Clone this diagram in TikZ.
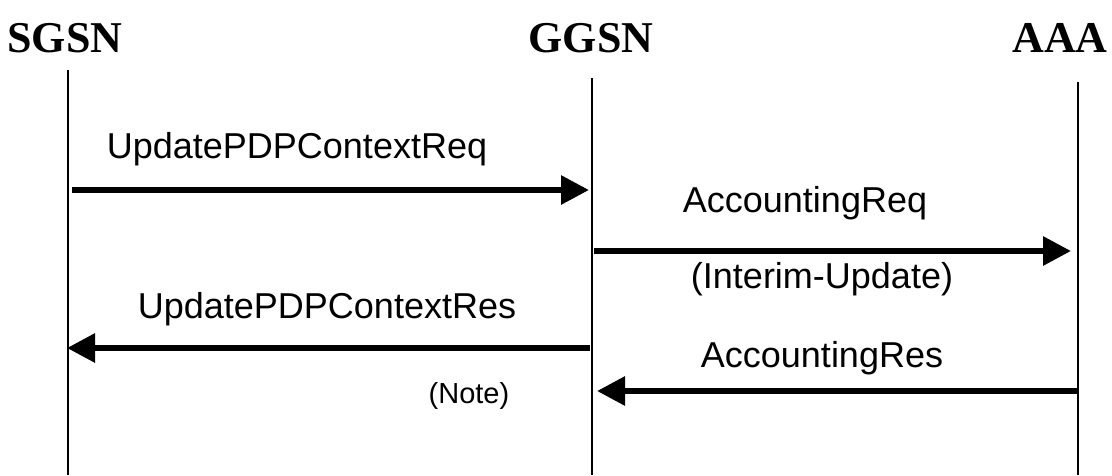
\documentclass[tikz,border=0pt]{standalone}
\usepackage{fontspec}
\setmainfont{Liberation Serif}
\newfontfamily\arialf{Liberation Sans}
\usetikzlibrary{arrows.meta}
\begin{document}
\begin{tikzpicture}[x=1pt,y=-1pt,
  title/.style={font=\fontsize{44}{50}\selectfont\bfseries, anchor=base, inner sep=0pt},
  lbl/.style={font=\arialf\fontsize{36}{42}\selectfont, anchor=base, inner sep=0pt},
  notelbl/.style={font=\arialf\fontsize{29}{34}\selectfont, anchor=base, inner sep=0pt},
  life/.style={line width=2pt},
  msg/.style={line width=6pt, -{Triangle[length=28pt,width=28pt]}}]
\useasboundingbox (0,0) rectangle (1112,475);
% titles
\node[title] (sgsn) at (65,52) {SGSN};
\node[title] (ggsn) at (591,52) {GGSN};
\node[title] (aaa) at (1060,52) {AAA};
% lifelines
\coordinate (s0) at (68,70);  \coordinate (s1) at (68,475);
\coordinate (g0) at (592,78); \coordinate (g1) at (592,475);
\coordinate (a0) at (1078,82); \coordinate (a1) at (1078,475);
\draw[life] (s0) -- (s1);
\draw[life] (g0) -- (g1);
\draw[life] (a0) -- (a1);
% message end points
\coordinate (m1s) at (72,190);   \coordinate (m1e) at (589,190);
\coordinate (m2s) at (594,251);  \coordinate (m2e) at (1071,251);
\coordinate (m3s) at (590,348);  \coordinate (m3e) at (67,348);
\coordinate (m4s) at (1078,391); \coordinate (m4e) at (597,391);
\draw[msg] (m1s) -- (m1e);
\draw[msg] (m2s) -- (m2e);
\draw[msg] (m3s) -- (m3e);
\draw[msg] (m4s) -- (m4e);
% labels
\node[lbl] (l1) at (297,158) {UpdatePDPContextReq};
\node[lbl] (l2) at (805,212) {AccountingReq};
\node[lbl] (l2b) at (822,288) {(Interim-Update)};
\node[lbl] (l3) at (327,318) {UpdatePDPContextRes};
\node[lbl] (l4) at (822,367) {AccountingRes};
\node[notelbl] (l5) at (469,403) {(Note)};
\end{tikzpicture}
\end{document}
